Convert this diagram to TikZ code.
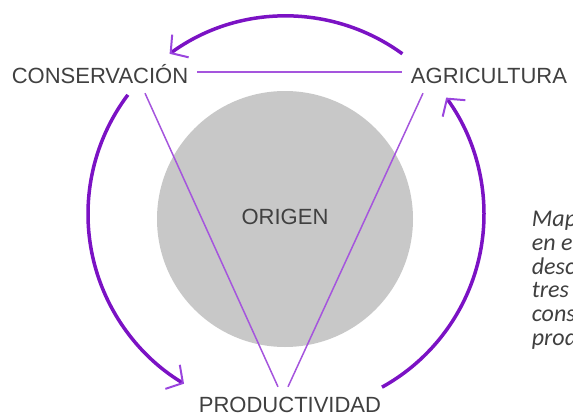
\documentclass[tikz,border=0pt]{standalone}
\usepackage{fontspec}
\setmainfont{Liberation Sans}
\newfontfamily\notefont{Carlito}
\usepackage{tikz}
\usetikzlibrary{arrows.meta,calc}
\definecolor{arcviolet}{HTML}{7B12C4}
\definecolor{tipviolet}{HTML}{9A45DE}
\definecolor{lineviolet}{HTML}{A555DD}
\definecolor{origengray}{HTML}{C8C8C8}
\definecolor{labelgray}{HTML}{404040}

\begin{document}
\begin{tikzpicture}[x=1pt, y=-1pt, concept/.style={font=\fontsize{22}{22}\selectfont, text=labelgray, inner sep=0pt, text height=16pt, text depth=0pt, anchor=base}, cycle/.style={line width=3.5pt, arcviolet, -{Straight Barb[length=12pt, width=28pt, line width=2pt, color=tipviolet]}}, link/.style={line width=1.5pt, lineviolet}, note/.style={font=\notefont\itshape\fontsize{24}{24}\selectfont, text=labelgray, inner sep=0pt, anchor=base west}]
\useasboundingbox (0,0) rectangle (573,415);
\clip (0,0) rectangle (573,415);
\node[circle, fill=origengray, minimum size=256pt, inner sep=0pt, font=\fontsize{22}{22}\selectfont, text=labelgray, text height=16pt, text depth=6pt] (origen) at (285,219) {ORIGEN};
\node[concept] (cons) at (100,83) {CONSERVACIÓN};
\node[concept] (agri) at (489,83) {AGRICULTURA};
\node[concept] (prod) at (290,412) {PRODUCTIVIDAD};
\draw[link] ([xshift=9pt, yshift=3pt]cons.east) -- ([xshift=-9pt, yshift=3pt]agri.west);
\draw[link] ([xshift=45pt, yshift=-10pt]cons.south) -- ([xshift=-12pt, yshift=9pt]prod.north);
\draw[link] ([xshift=-66pt, yshift=-10pt]agri.south) -- ([xshift=-2pt, yshift=9pt]prod.north);
\coordinate (hub) at (286,214);
\coordinate (agri-out) at ($(hub)+(54:198pt)$);
\coordinate (cons-out) at ($(hub)+(143:198pt)$);
\coordinate (prod-out) at ($(hub)+(-61:198pt)$);
\draw[cycle] (agri-out) arc[start angle=54, end angle=126, radius=198pt];
\draw[cycle] (cons-out) arc[start angle=143, end angle=239, radius=198pt];
\draw[cycle] (prod-out) arc[start angle=-61, end angle=36, radius=198pt];
\foreach \txt [count=\i] in {Map, en e, desc, tres, cons, prod}
  \node[note] (note\i) at (531.7,{226.7+23.75*(\i-1)}) {\txt};
\end{tikzpicture}
\end{document}
